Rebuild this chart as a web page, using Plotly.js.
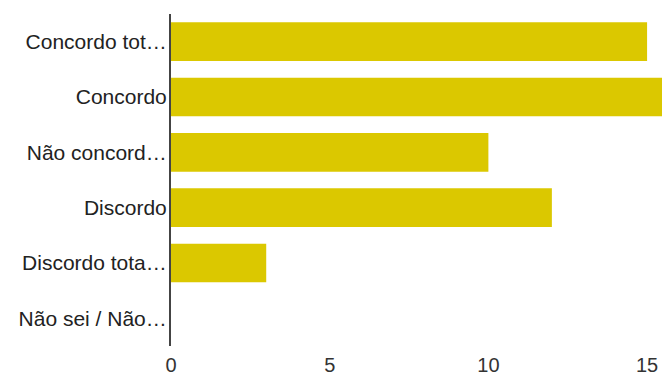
<!DOCTYPE html>
<html>
<head>
<meta charset="utf-8">
<script src="https://cdn.plot.ly/plotly-3.0.1.min.js"></script>
<style>html,body{margin:0;padding:0;background:#fff;overflow:hidden}</style>
</head>
<body>
<div id="chart" style="width:662px;height:377px"></div>
<script>
const categories = ["Concordo tot…", "Concordo", "Não concord…", "Discordo", "Discordo tota…", "Não sei / Não…"];
const values = [15, 16, 10, 12, 3, 0];
const xTicks = [0, 5, 10, 15];

Plotly.newPlot('chart', [{
  type: 'bar',
  orientation: 'h',
  y: categories,
  x: values,
  marker: {color: '#dbc800'},
  hoverinfo: 'none'
}], {
  width: 662,
  height: 377,
  margin: {l: 171, r: 0, t: 14, b: 31, pad: 0},
  paper_bgcolor: '#ffffff',
  plot_bgcolor: '#ffffff',
  bargap: 0.3,
  showlegend: false,
  font: {family: 'Liberation Sans, Arial, sans-serif', size: 21, color: '#222222'},
  xaxis: {
    range: [0, 15.47],
    tickvals: xTicks,
    ticktext: xTicks.map(String),
    showgrid: false,
    zeroline: false,
    showline: false,
    ticks: '',
    ticklabelstandoff: 5,
    tickfont: {size: 20, color: '#333333'}
  },
  yaxis: {
    type: 'category',
    autorange: 'reversed',
    showgrid: false,
    zeroline: false,
    showline: true,
    linecolor: '#444444',
    linewidth: 2,
    ticks: '',
    ticklabelstandoff: -2,
    tickfont: {size: 21, color: '#222222'}
  }
}, {staticPlot: true});
</script>
</body>
</html>
